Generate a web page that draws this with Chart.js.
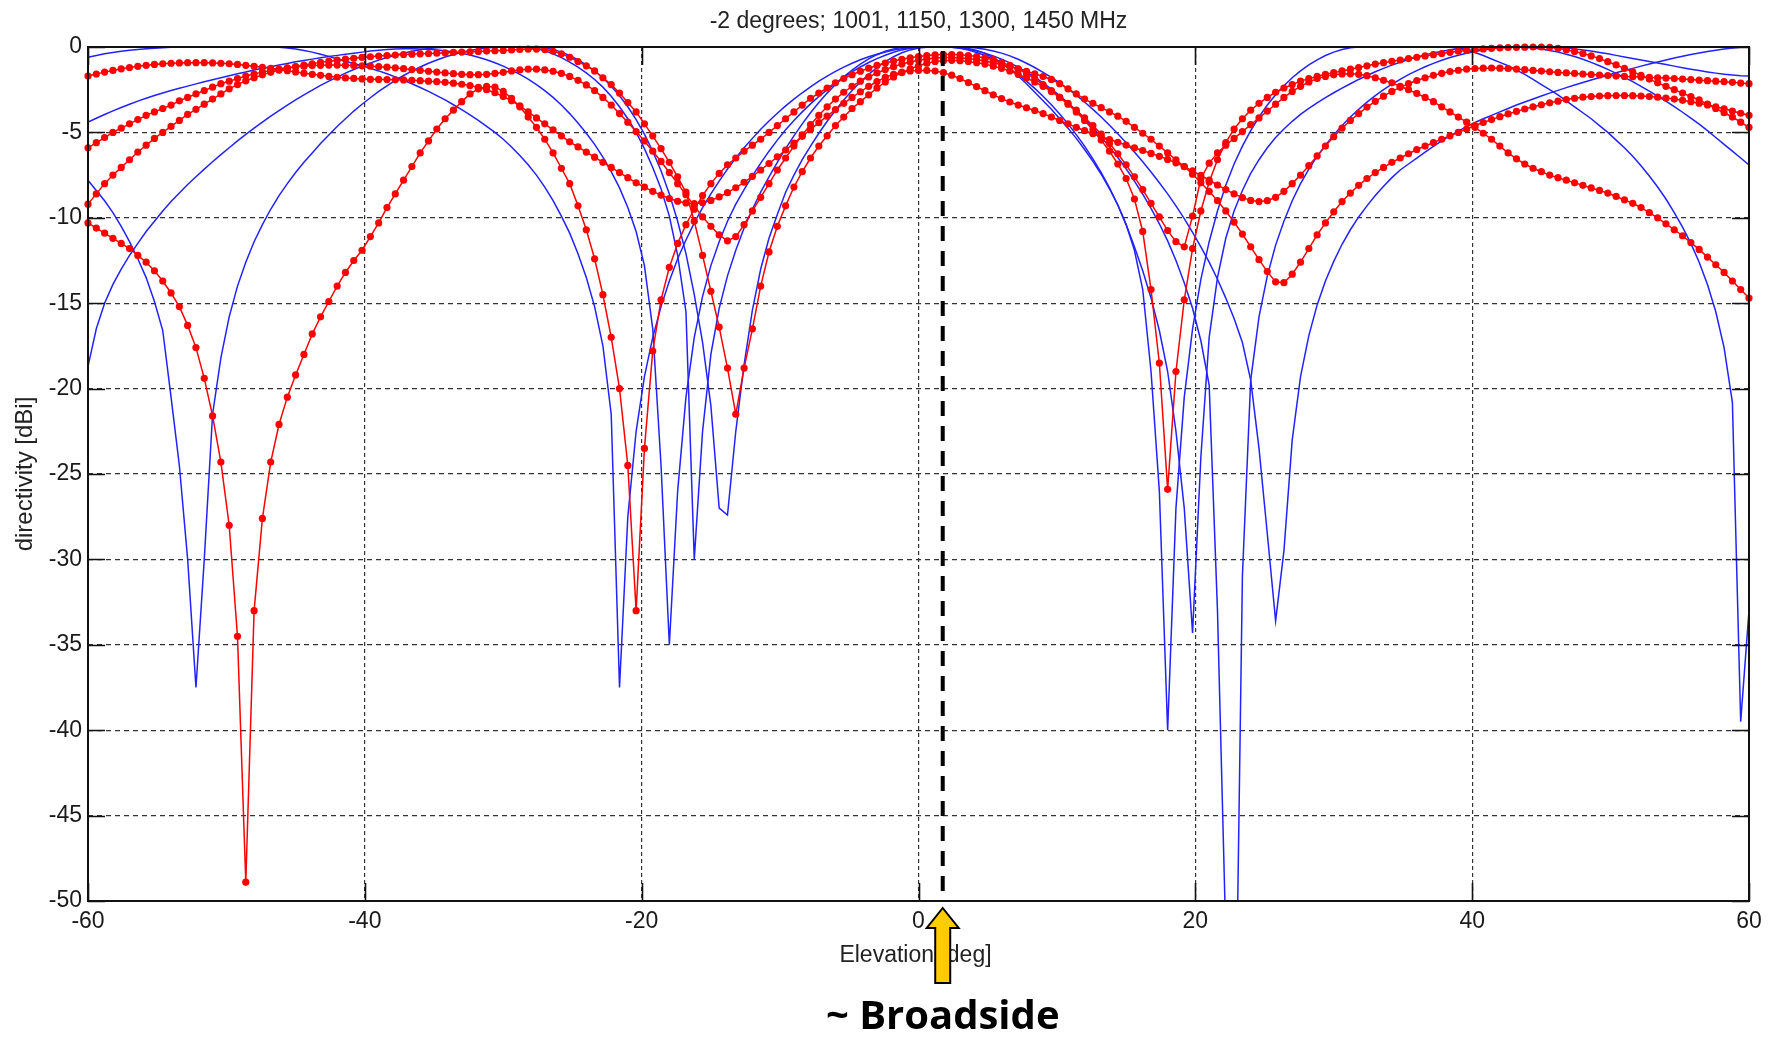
<!DOCTYPE html>
<html>
<head>
<meta charset="utf-8">
<title>Elevation directivity, -2 degrees</title>
<script src="https://cdn.jsdelivr.net/npm/chart.js@4.4.1/dist/chart.umd.min.js"></script>
<style>
  html, body { margin: 0; padding: 0; background: #ffffff; }
  canvas { display: block; }
</style>
</head>
<body>
<canvas id="pattern" width="1773" height="1040"></canvas>
<script>
// Elevation sampling grid: -60 .. 60 deg in 0.6 deg steps (201 samples)
const ELEV_MIN = -60;
const ELEV_STEP = 0.6;
const SAMPLE_COUNT = 201;
const elevation = Array.from({ length: SAMPLE_COUNT }, (_, i) => +(ELEV_MIN + i * ELEV_STEP).toFixed(1));

const chartTitle = '-2 degrees; 1001, 1150, 1300, 1450 MHz';
const xAxisLabel = 'Elevation [deg]';
const yAxisLabel = 'directivity [dBi]';
const xTickValues = [-60, -40, -20, 0, 20, 40, 60];
const yTickValues = [0, -5, -10, -15, -20, -25, -30, -35, -40, -45, -50];
const broadsideElevation = 1.75;
const broadsideLabel = '~ Broadside';

// Computed patterns (blue), one row = 10 samples = 6 deg
const computed1001 = [
  -0.6, -0.5, -0.4, -0.32, -0.25, -0.19, -0.14, -0.1, -0.07, -0.04,
  -0.02, 0, 0, 0, 0, 0, 0, 0, 0, 0,
  0, 0, 0, -0.02, -0.06, -0.12, -0.2, -0.3, -0.42, -0.55,
  -0.7, -0.83, -0.97, -1.1, -1.25, -1.4, -1.57, -1.75, -1.95, -2.15,
  -2.37, -2.6, -2.85, -3.1, -3.38, -3.67, -3.98, -4.3, -4.65, -5.0,
  -5.4, -5.85, -6.35, -6.9, -7.5, -8.2, -9.0, -9.9, -10.9, -12.1,
  -13.5, -15.2, -17.5, -21.5, -37.5, -27.5, -22.5, -19.3, -17.0, -15.2,
  -13.7, -12.4, -11.3, -10.3, -9.4, -8.6, -7.85, -7.15, -6.5, -5.9,
  -5.35, -4.82, -4.33, -3.88, -3.45, -3.05, -2.68, -2.33, -2.0, -1.7,
  -1.43, -1.18, -0.95, -0.75, -0.57, -0.42, -0.29, -0.18, -0.1, -0.04,
  -0.01, 0, 0, 0, 0, 0, -0.02, -0.06, -0.13, -0.23,
  -0.36, -0.52, -0.72, -0.95, -1.2, -1.48, -1.78, -2.1, -2.45, -2.82,
  -3.22, -3.65, -4.1, -4.58, -5.08, -5.6, -6.15, -6.72, -7.32, -7.95,
  -8.6, -9.3, -10.05, -10.85, -11.7, -12.6, -13.6, -14.7, -15.9, -17.3,
  -19.5, -23.5, -28.5, -33.6, -29.5, -23.0, -19.3, -16.9, -15.1, -13.7,
  -12.55, -11.55, -10.7, -9.95, -9.3, -8.7, -8.15, -7.65, -7.2, -6.85,
  -6.5, -6.15, -5.82, -5.5, -5.2, -4.92, -4.66, -4.42, -4.2, -4.0,
  -3.8, -3.6, -3.4, -3.22, -3.04, -2.87, -2.7, -2.54, -2.38, -2.23,
  -2.08, -1.93, -1.79, -1.65, -1.51, -1.38, -1.25, -1.12, -1.0, -0.88,
  -0.76, -0.65, -0.54, -0.44, -0.35, -0.27, -0.19, -0.12, -0.06, -0.02,
  0
];
const computed1150 = [
  -4.4, -4.17, -3.95, -3.74, -3.54, -3.35, -3.17, -3.0, -2.84, -2.69,
  -2.55, -2.42, -2.29, -2.16, -2.04, -1.92, -1.8, -1.68, -1.57, -1.46,
  -1.35, -1.25, -1.15, -1.05, -0.96, -0.87, -0.79, -0.71, -0.63, -0.56,
  -0.49, -0.42, -0.36, -0.3, -0.24, -0.19, -0.15, -0.12, -0.1, -0.1,
  -0.11, -0.13, -0.17, -0.22, -0.29, -0.37, -0.47, -0.6, -0.75, -0.92,
  -1.12, -1.35, -1.6, -1.88, -2.2, -2.55, -2.95, -3.4, -3.9, -4.45,
  -5.05, -5.7, -6.45, -7.3, -8.25, -9.4, -10.8, -12.8, -16.5, -24.5,
  -35.0, -26.0, -20.5, -17.0, -14.6, -12.8, -11.4, -10.2, -9.2, -8.35,
  -7.55, -6.8, -6.1, -5.45, -4.85, -4.3, -3.8, -3.33, -2.9, -2.5,
  -2.12, -1.78, -1.46, -1.17, -0.91, -0.68, -0.48, -0.31, -0.17, -0.07,
  -0.01, 0, 0, 0, -0.02, -0.06, -0.13, -0.23, -0.36, -0.52,
  -0.71, -0.93, -1.18, -1.46, -1.77, -2.1, -2.46, -2.85, -3.27, -3.72,
  -4.2, -4.72, -5.27, -5.85, -6.47, -7.13, -7.85, -8.62, -9.45, -10.35,
  -11.35, -12.5, -13.8, -15.3, -17.2, -19.8, -33.0, -52.0, -65.0, -31.0,
  -19.5, -15.8, -13.4, -11.6, -10.2, -9.0, -8.0, -7.15, -6.4, -5.75,
  -5.15, -4.6, -4.1, -3.65, -3.23, -2.85, -2.5, -2.18, -1.89, -1.62,
  -1.38, -1.16, -0.96, -0.78, -0.62, -0.48, -0.36, -0.26, -0.18, -0.11,
  -0.06, -0.02, 0, 0, 0, 0, 0, -0.02, -0.06, -0.11,
  -0.17, -0.24, -0.32, -0.4, -0.49, -0.58, -0.67, -0.76, -0.85, -0.94,
  -1.03, -1.12, -1.21, -1.3, -1.38, -1.46, -1.53, -1.59, -1.64, -1.68,
  -1.7
];
const computed1300 = [
  -18.7, -16.5, -15.0, -13.9, -13.0, -12.2, -11.5, -10.8, -10.2, -9.6,
  -9.05, -8.55, -8.05, -7.6, -7.15, -6.72, -6.3, -5.9, -5.5, -5.12,
  -4.75, -4.4, -4.05, -3.72, -3.4, -3.1, -2.8, -2.52, -2.25, -2.0,
  -1.76, -1.53, -1.32, -1.12, -0.94, -0.77, -0.62, -0.48, -0.36, -0.25,
  -0.16, -0.09, -0.04, -0.01, 0, 0, 0, 0, 0, 0,
  0, 0, 0, -0.03, -0.1, -0.22, -0.4, -0.62, -0.88, -1.18,
  -1.52, -1.9, -2.35, -2.88, -3.5, -4.2, -5.0, -5.95, -7.05, -8.3,
  -9.9, -12.2, -15.5, -30.0, -22.5, -18.0, -15.3, -13.4, -11.9, -10.6,
  -9.5, -8.5, -7.6, -6.75, -5.95, -5.2, -4.5, -3.85, -3.25, -2.7,
  -2.2, -1.75, -1.35, -1.0, -0.7, -0.45, -0.25, -0.11, -0.03, 0,
  0, 0, 0, 0, -0.02, -0.08, -0.18, -0.32, -0.5, -0.72,
  -0.98, -1.28, -1.62, -2.0, -2.42, -2.88, -3.38, -3.92, -4.5, -5.13,
  -5.8, -6.55, -7.35, -8.25, -9.25, -10.4, -11.7, -13.1, -14.7, -16.6,
  -19.0, -22.5, -27.0, -34.3, -24.0, -17.0, -13.5, -11.2, -9.6, -8.4,
  -7.4, -6.6, -5.9, -5.3, -4.8, -4.35, -3.95, -3.6, -3.27, -2.97,
  -2.68, -2.41, -2.15, -1.9, -1.67, -1.45, -1.25, -1.06, -0.89, -0.73,
  -0.59, -0.46, -0.35, -0.25, -0.17, -0.1, -0.05, -0.02, 0, 0,
  0, 0, 0, -0.02, -0.06, -0.12, -0.2, -0.3, -0.42, -0.56,
  -0.72, -0.9, -1.1, -1.31, -1.54, -1.78, -2.03, -2.3, -2.58, -2.87,
  -3.17, -3.49, -3.82, -4.16, -4.52, -4.9, -5.3, -5.7, -6.1, -6.5,
  -6.9
];
const computed1450 = [
  -7.8, -8.4, -9.0, -9.7, -10.5, -11.4, -12.4, -13.5, -14.9, -16.6,
  -20.5, -24.5, -30.0, -37.5, -30.0, -21.5, -18.2, -15.8, -14.0, -12.6,
  -11.4, -10.4, -9.5, -8.7, -8.0, -7.35, -6.75, -6.2, -5.65, -5.15,
  -4.65, -4.2, -3.75, -3.35, -2.97, -2.6, -2.27, -1.96, -1.67, -1.41,
  -1.17, -0.95, -0.76, -0.59, -0.44, -0.31, -0.2, -0.12, -0.06, -0.02,
  0, 0, 0, 0, -0.02, -0.06, -0.15, -0.3, -0.5, -0.75,
  -1.05, -1.4, -1.8, -2.3, -2.85, -3.5, -4.25, -5.1, -6.1, -7.25,
  -8.6, -10.2, -12.1, -14.5, -17.3, -21.0, -27.0, -27.4, -22.5, -18.6,
  -15.4, -13.0, -11.2, -9.8, -8.5, -7.5, -6.6, -5.8, -5.05, -4.35,
  -3.7, -3.1, -2.55, -2.05, -1.6, -1.2, -0.86, -0.57, -0.34, -0.17,
  -0.06, -0.01, 0, 0, 0, -0.02, -0.08, -0.2, -0.38, -0.62,
  -0.92, -1.28, -1.7, -2.15, -2.65, -3.15, -3.65, -4.2, -4.75, -5.35,
  -6.0, -6.7, -7.45, -8.3, -9.25, -10.4, -11.9, -14.2, -19.0, -26.0,
  -40.0, -27.0, -20.5, -16.5, -13.6, -11.4, -9.6, -8.1, -6.85, -5.8,
  -4.9, -4.1, -3.4, -2.8, -2.27, -1.8, -1.4, -1.05, -0.75, -0.5,
  -0.3, -0.15, -0.05, 0, 0, 0, 0, 0, 0, 0,
  0, 0, 0, 0, -0.02, -0.08, -0.18, -0.32, -0.5, -0.7,
  -0.9, -1.1, -1.35, -1.6, -1.9, -2.2, -2.5, -2.8, -3.15, -3.5,
  -3.85, -4.2, -4.6, -5.0, -5.45, -5.9, -6.4, -6.95, -7.55, -8.2,
  -8.9, -9.7, -10.55, -11.5, -12.6, -13.9, -15.5, -17.6, -20.8, -39.5,
  -33.0
];

// Measured patterns (red, dotted markers), one row = 10 samples = 6 deg
const measured1001 = [
  -1.7, -1.58, -1.47, -1.37, -1.28, -1.2, -1.13, -1.07, -1.02, -0.98,
  -0.95, -0.93, -0.92, -0.92, -0.92, -0.93, -0.95, -0.98, -1.02, -1.07,
  -1.13, -1.19, -1.25, -1.32, -1.39, -1.46, -1.53, -1.6, -1.66, -1.72,
  -1.77, -1.81, -1.84, -1.87, -1.89, -1.9, -1.91, -1.92, -1.93, -1.95,
  -1.97, -2.0, -2.03, -2.07, -2.12, -2.18, -2.26, -2.36, -2.5, -2.68,
  -2.9, -3.15, -3.45, -3.8, -4.15, -4.5, -4.85, -5.2, -5.55, -5.85,
  -6.15, -6.45, -6.75, -7.05, -7.35, -7.65, -7.95, -8.2, -8.45, -8.67,
  -8.87, -9.03, -9.13, -9.17, -9.12, -8.98, -8.78, -8.53, -8.24, -7.92,
  -7.57, -7.2, -6.82, -6.43, -6.03, -5.63, -5.23, -4.83, -4.43, -4.05,
  -3.67, -3.3, -2.95, -2.62, -2.3, -2.02, -1.78, -1.6, -1.47, -1.4,
  -1.37, -1.37, -1.41, -1.5, -1.65, -1.85, -2.08, -2.32, -2.56, -2.8,
  -3.02, -3.22, -3.4, -3.56, -3.72, -3.9, -4.1, -4.3, -4.5, -4.7,
  -4.9, -5.08, -5.25, -5.42, -5.58, -5.74, -5.9, -6.06, -6.23, -6.4,
  -6.58, -6.78, -7.0, -7.25, -7.52, -7.8, -8.08, -8.35, -8.6, -8.82,
  -8.98, -9.05, -9.0, -8.8, -8.45, -8.0, -7.5, -6.95, -6.38, -5.8,
  -5.25, -4.75, -4.3, -3.9, -3.52, -3.18, -2.88, -2.6, -2.36, -2.15,
  -1.96, -1.8, -1.66, -1.54, -1.44, -1.36, -1.3, -1.26, -1.24, -1.23,
  -1.24, -1.26, -1.29, -1.33, -1.37, -1.41, -1.45, -1.49, -1.52, -1.55,
  -1.58, -1.61, -1.64, -1.67, -1.7, -1.72, -1.74, -1.76, -1.78, -1.8,
  -1.82, -1.85, -1.88, -1.91, -1.94, -1.97, -2.0, -2.03, -2.07, -2.11,
  -2.15
];
const measured1150 = [
  -5.9, -5.6, -5.3, -5.0, -4.75, -4.5, -4.25, -4.0, -3.8, -3.6,
  -3.4, -3.15, -2.95, -2.75, -2.55, -2.35, -2.15, -2.0, -1.85, -1.7,
  -1.58, -1.47, -1.37, -1.29, -1.22, -1.16, -1.12, -1.09, -1.07, -1.06,
  -1.06, -1.07, -1.08, -1.1, -1.12, -1.15, -1.18, -1.22, -1.27, -1.32,
  -1.37, -1.42, -1.47, -1.52, -1.56, -1.6, -1.62, -1.62, -1.6, -1.55,
  -1.48, -1.4, -1.34, -1.3, -1.3, -1.34, -1.42, -1.55, -1.72, -1.95,
  -2.22, -2.55, -2.95, -3.4, -3.9, -4.4, -4.95, -5.5, -6.1, -6.7,
  -7.35, -8.0, -8.65, -9.3, -9.95, -10.5, -11.0, -11.35, -11.1, -10.4,
  -9.6, -8.8, -8.0, -7.2, -6.5, -5.8, -5.15, -4.55, -4.0, -3.5,
  -3.05, -2.65, -2.3, -2.0, -1.75, -1.52, -1.32, -1.15, -1.0, -0.88,
  -0.78, -0.7, -0.65, -0.62, -0.62, -0.64, -0.68, -0.74, -0.82, -0.92,
  -1.03, -1.15, -1.28, -1.42, -1.57, -1.73, -1.9, -2.15, -2.45, -2.75,
  -3.05, -3.3, -3.55, -3.8, -4.05, -4.35, -4.7, -5.05, -5.4, -5.8,
  -6.2, -6.6, -7.0, -7.45, -7.95, -8.45, -9.0, -9.6, -10.25, -10.95,
  -11.7, -12.45, -13.15, -13.75, -13.8, -13.3, -12.6, -11.8, -11.0, -10.3,
  -9.65, -9.05, -8.55, -8.1, -7.7, -7.35, -7.05, -6.75, -6.5, -6.25,
  -6.0, -5.8, -5.6, -5.4, -5.2, -5.0, -4.8, -4.6, -4.42, -4.25,
  -4.08, -3.92, -3.77, -3.63, -3.5, -3.38, -3.27, -3.17, -3.08, -3.0,
  -2.94, -2.9, -2.87, -2.85, -2.84, -2.84, -2.85, -2.87, -2.9, -2.94,
  -2.99, -3.05, -3.12, -3.2, -3.29, -3.39, -3.5, -3.62, -3.75, -3.88,
  -4.0
];
const measured1300 = [
  -9.2, -8.6, -8.0, -7.5, -7.05, -6.6, -6.15, -5.75, -5.35, -5.0,
  -4.65, -4.3, -3.95, -3.65, -3.35, -3.05, -2.75, -2.45, -2.2, -1.98,
  -1.8, -1.63, -1.48, -1.35, -1.25, -1.15, -1.06, -0.98, -0.9, -0.83,
  -0.77, -0.71, -0.66, -0.61, -0.57, -0.53, -0.5, -0.47, -0.44, -0.42,
  -0.4, -0.38, -0.36, -0.34, -0.32, -0.3, -0.28, -0.26, -0.24, -0.22,
  -0.2, -0.17, -0.14, -0.12, -0.12, -0.15, -0.25, -0.4, -0.6, -0.85,
  -1.1, -1.4, -1.8, -2.2, -2.7, -3.25, -3.8, -4.5, -5.2, -5.95,
  -6.75, -7.6, -8.5, -10.2, -12.2, -14.3, -16.4, -18.8, -21.5, -18.8,
  -16.5, -14.0, -12.0, -10.5, -9.3, -8.2, -7.3, -6.5, -5.8, -5.2,
  -4.6, -4.1, -3.6, -3.2, -2.8, -2.4, -2.05, -1.75, -1.5, -1.28,
  -1.1, -0.95, -0.85, -0.8, -0.78, -0.8, -0.85, -0.92, -1.0, -1.12,
  -1.25, -1.4, -1.6, -1.8, -2.05, -2.3, -2.6, -2.95, -3.3, -3.7,
  -4.15, -4.6, -5.1, -5.65, -6.25, -6.9, -7.6, -8.35, -9.15, -9.95,
  -10.75, -11.4, -11.7, -9.9, -7.7, -6.8, -6.2, -5.75, -5.35, -4.95,
  -4.55, -4.15, -3.75, -3.35, -2.95, -2.6, -2.3, -2.05, -1.85, -1.72,
  -1.63, -1.58, -1.57, -1.6, -1.68, -1.8, -1.95, -2.1, -2.3, -2.5,
  -2.72, -2.95, -3.2, -3.5, -3.8, -4.1, -4.4, -4.7, -5.05, -5.4,
  -5.8, -6.2, -6.55, -6.85, -7.1, -7.3, -7.5, -7.65, -7.8, -7.95,
  -8.1, -8.25, -8.4, -8.55, -8.75, -8.95, -9.15, -9.4, -9.7, -10.0,
  -10.35, -10.7, -11.05, -11.45, -11.85, -12.3, -12.75, -13.2, -13.7, -14.2,
  -14.7
];
const measured1450 = [
  -10.3, -10.6, -10.9, -11.2, -11.5, -11.8, -12.2, -12.6, -13.1, -13.7,
  -14.4, -15.2, -16.3, -17.6, -19.4, -21.6, -24.3, -28.0, -34.5, -48.9,
  -33.0, -27.6, -24.3, -22.1, -20.5, -19.2, -18.0, -16.8, -15.8, -14.9,
  -14.0, -13.2, -12.5, -11.9, -11.1, -10.3, -9.4, -8.6, -7.8, -7.0,
  -6.2, -5.5, -4.8, -4.2, -3.7, -3.2, -2.75, -2.45, -2.3, -2.35,
  -2.6, -3.0, -3.5, -4.1, -4.7, -5.4, -6.2, -7.1, -8.0, -9.3,
  -10.7, -12.4, -14.5, -17.0, -20.0, -24.5, -33.0, -23.5, -17.8, -14.8,
  -12.9, -11.5, -10.4, -9.5, -8.7, -8.0, -7.4, -6.9, -6.5, -6.1,
  -5.75, -5.4, -5.0, -4.6, -4.2, -3.8, -3.4, -3.0, -2.7, -2.4,
  -2.1, -1.85, -1.62, -1.42, -1.24, -1.08, -0.94, -0.82, -0.72, -0.63,
  -0.56, -0.5, -0.46, -0.44, -0.44, -0.46, -0.5, -0.56, -0.64, -0.74,
  -0.9, -1.08, -1.3, -1.55, -1.85, -2.2, -2.55, -2.95, -3.35, -3.8,
  -4.3, -4.85, -5.45, -6.1, -6.85, -7.7, -8.9, -10.8, -14.2, -18.5,
  -25.9, -19.0, -14.8, -11.8, -9.6, -7.9, -6.6, -5.6, -4.8, -4.2,
  -3.7, -3.3, -2.95, -2.65, -2.4, -2.2, -2.0, -1.85, -1.72, -1.6,
  -1.5, -1.4, -1.3, -1.2, -1.1, -1.0, -0.92, -0.84, -0.76, -0.68,
  -0.6, -0.52, -0.45, -0.38, -0.31, -0.25, -0.2, -0.15, -0.11, -0.08,
  -0.05, -0.03, -0.02, -0.01, 0, 0, -0.02, -0.08, -0.16, -0.26,
  -0.38, -0.52, -0.68, -0.86, -1.05, -1.25, -1.45, -1.66, -1.88, -2.1,
  -2.3, -2.5, -2.7, -2.9, -3.1, -3.35, -3.6, -3.85, -4.1, -4.4,
  -4.7
];

const computedSeries = [computed1001, computed1150, computed1300, computed1450];
const measuredSeries = [measured1001, measured1150, measured1300, measured1450];

const COMPUTED_COLOR = '#2222ff';
const MEASURED_COLOR = '#ff0000';
const TEXT_FONT = '"Liberation Sans", Arial, sans-serif';

const toPoints = values => values.map((v, i) => ({ x: elevation[i], y: v }));

const datasets = [];
measuredSeries.forEach(values => {
  datasets.push({
    data: toPoints(values),
    borderColor: MEASURED_COLOR,
    backgroundColor: MEASURED_COLOR,
    borderWidth: 1.5,
    pointRadius: 3.6,
    pointBorderWidth: 0,
    pointBackgroundColor: MEASURED_COLOR,
    tension: 0,
    order: 0,
    clip: { left: 5, top: 5, right: 5, bottom: 0 }
  });
});
computedSeries.forEach(values => {
  datasets.push({
    data: toPoints(values),
    borderColor: COMPUTED_COLOR,
    borderWidth: 1.5,
    pointRadius: 0,
    tension: 0,
    order: 1,
    clip: { left: 0, top: 2, right: 0, bottom: 0 }
  });
});

// Axes box, inward tick marks, titles and the broadside marker
const decorations = {
  id: 'decorations',
  afterDatasetsDraw(chart) {
    const { ctx, chartArea: a, scales } = chart;
    const xs = scales.x, ys = scales.y;
    ctx.save();
    ctx.strokeStyle = '#111111';
    ctx.lineWidth = 1.6;
    ctx.setLineDash([]);
    ctx.beginPath();
    yTickValues.forEach(v => {
      const py = Math.round(ys.getPixelForValue(v)) + 0.5;
      ctx.moveTo(a.left, py); ctx.lineTo(a.left + 17, py);
      ctx.moveTo(a.right - 17, py); ctx.lineTo(a.right, py);
    });
    xTickValues.forEach(v => {
      const px = Math.round(xs.getPixelForValue(v)) + 0.5;
      ctx.moveTo(px, a.bottom); ctx.lineTo(px, a.bottom - 18);
      ctx.moveTo(px, a.top); ctx.lineTo(px, a.top + 18);
    });
    ctx.stroke();
    ctx.lineWidth = 2;
    ctx.strokeRect(a.left, a.top, a.right - a.left, a.bottom - a.top);

    // broadside dashed line
    const bx = xs.getPixelForValue(broadsideElevation);
    ctx.strokeStyle = '#000000';
    ctx.lineWidth = 4;
    ctx.setLineDash([15, 10]);
    ctx.beginPath();
    ctx.moveTo(bx, a.top + 4);
    ctx.lineTo(bx, a.bottom);
    ctx.stroke();
    ctx.restore();
  },
  afterDraw(chart) {
    const { ctx, chartArea: a, scales } = chart;
    const xs = scales.x;
    const midX = (a.left + a.right) / 2;
    ctx.save();
    ctx.fillStyle = '#222222';
    ctx.textAlign = 'center';
    ctx.textBaseline = 'middle';
    ctx.font = '23px ' + TEXT_FONT;
    ctx.fillText(chartTitle, midX, 22);
    ctx.fillText(xAxisLabel, midX - 3, a.bottom + 55);
    ctx.save();
    ctx.translate(25, (a.top + a.bottom) / 2);
    ctx.rotate(-Math.PI / 2);
    ctx.font = '24px ' + TEXT_FONT;
    ctx.fillText(yAxisLabel, 0, 0);
    ctx.restore();

    // yellow arrow pointing up at the broadside line
    const bx = xs.getPixelForValue(broadsideElevation);
    const tipY = a.bottom + 7;
    const headY = a.bottom + 27;
    const baseY = a.bottom + 82;
    ctx.beginPath();
    ctx.moveTo(bx, tipY);
    ctx.lineTo(bx + 16, headY);
    ctx.lineTo(bx + 7.5, headY);
    ctx.lineTo(bx + 7.5, baseY);
    ctx.lineTo(bx - 7.5, baseY);
    ctx.lineTo(bx - 7.5, headY);
    ctx.lineTo(bx - 16, headY);
    ctx.closePath();
    ctx.fillStyle = '#ffcc00';
    ctx.fill();
    ctx.lineWidth = 2;
    ctx.strokeStyle = '#000000';
    ctx.lineJoin = 'miter';
    ctx.stroke();

    ctx.fillStyle = '#000000';
    ctx.font = 'bold 40px "Open Sans", Lato, sans-serif';
    ctx.fillText(broadsideLabel, bx, a.bottom + 117);
    ctx.restore();
  }
};

Chart.defaults.font.family = TEXT_FONT;

new Chart(document.getElementById('pattern'), {
  type: 'line',
  data: { datasets },
  options: {
    responsive: false,
    animation: false,
    events: [],
    devicePixelRatio: 1,
    layout: { padding: { left: 0, right: 24, top: 47, bottom: 0 } },
    plugins: { legend: { display: false }, tooltip: { enabled: false }, title: { display: false } },
    scales: {
      x: {
        type: 'linear',
        min: -60,
        max: 60,
        afterFit: s => { s.height = 139; },
        afterBuildTicks: s => { s.ticks = xTickValues.map(v => ({ value: v })); },
        ticks: { color: '#1a1a1a', font: { size: 23 }, padding: 7, maxRotation: 0, autoSkip: false },
        grid: { color: '#333333', lineWidth: 1.2, drawTicks: false },
        border: { display: false, dash: [4, 3] }
      },
      y: {
        type: 'linear',
        min: -50,
        max: 0,
        afterFit: s => { s.width = 88; },
        afterBuildTicks: s => { s.ticks = yTickValues.map(v => ({ value: v })); },
        ticks: { color: '#1a1a1a', font: { size: 23 }, padding: 6, autoSkip: false },
        grid: { color: '#333333', lineWidth: 1.2, drawTicks: false },
        border: { display: false, dash: [5, 4] }
      }
    }
  },
  plugins: [decorations]
});
</script>
</body>
</html>
